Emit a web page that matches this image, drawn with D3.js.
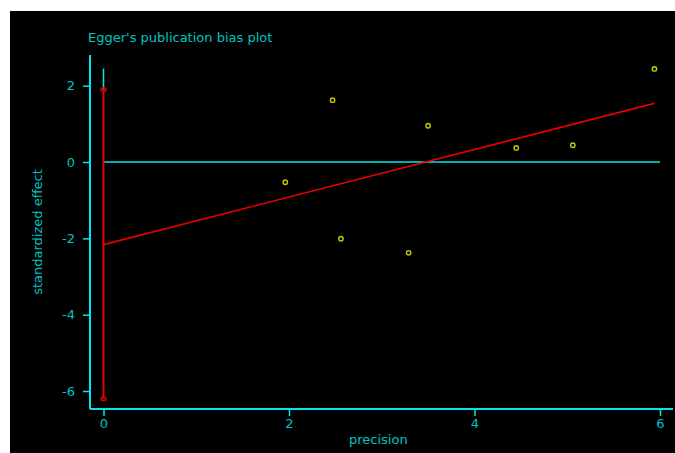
<!DOCTYPE html>
<html>
<head>
<meta charset="utf-8">
<script src="https://cdn.jsdelivr.net/npm/d3@7"></script>
<style>
  html, body { margin: 0; padding: 0; background: #ffffff; }
  svg { display: block; }
  text { font-family: "DejaVu Sans", "Liberation Sans", Arial, sans-serif; }
</style>
</head>
<body>
<svg id="chart" width="675" height="453"></svg>
<script>
// Egger regression: standardized effect (effect / SE) against precision (1 / SE)
const precision = [1.96, 2.47, 2.56, 3.29, 3.50, 4.45, 5.06, 5.94];
const standardizedEffect = [-0.53, 1.62, -2.01, -2.38, 0.95, 0.37, 0.44, 2.44];

// 95% confidence interval of the intercept (bias coefficient)
const interceptCI = [-6.2, 1.9];

const xTicks = [0, 2, 4, 6];
const yTicks = [2, 0, -2, -4, -6];

const titleText = "Egger's publication bias plot";
const xLabel = "precision";
const yLabel = "standardized effect";

const AXIS = "#00e8e8";
const TEXT = "#00c4c4";
const RED = "#e80000";
const YELLOW = "#c8c800";

const svg = d3.select("#chart");

// black panel
svg.append("rect").attr("x", 10).attr("y", 11).attr("width", 665).attr("height", 442).attr("fill", "#000");

const x = d3.scaleLinear().domain([0, 6]).range([103.5, 660]);
const y = d3.scaleLinear().domain([-6, 2]).range([391, 85.7]);

// least-squares fit of standardized effect on precision
const mx = d3.mean(precision), my = d3.mean(standardizedEffect);
const sxy = d3.sum(precision, (p, i) => (p - mx) * (standardizedEffect[i] - my));
const sxx = d3.sum(precision, p => (p - mx) ** 2);
const slope = sxy / sxx;
const intercept = my - slope * mx;
const xMax = d3.max(precision);

// axes
const xAxisY = 409;
const yAxisX = 90;

const yAxis = d3.axisLeft(y).tickValues(yTicks).tickSize(7).tickPadding(8).tickFormat(d3.format("d"));
const gy = svg.append("g").attr("transform", `translate(${yAxisX},0)`).call(yAxis);
gy.select(".domain").remove();
gy.selectAll(".tick line").attr("stroke", AXIS).attr("stroke-width", 1.5);
gy.selectAll(".tick text").attr("fill", TEXT).attr("font-size", 13).text(d => d < 0 ? "-" + Math.abs(d) : d);
svg.append("line").attr("x1", yAxisX).attr("x2", yAxisX).attr("y1", 55).attr("y2", xAxisY)
  .attr("stroke", AXIS).attr("stroke-width", 2);

const xAxis = d3.axisBottom(x).tickValues(xTicks).tickSize(7).tickPadding(3).tickFormat(d3.format("d"));
const gx = svg.append("g").attr("transform", `translate(0,${xAxisY})`).call(xAxis);
gx.select(".domain").remove();
gx.selectAll(".tick line").attr("stroke", AXIS).attr("stroke-width", 1.5);
gx.selectAll(".tick text").attr("fill", TEXT).attr("font-size", 13);
svg.append("line").attr("x1", yAxisX).attr("x2", 673).attr("y1", xAxisY).attr("y2", xAxisY)
  .attr("stroke", AXIS).attr("stroke-width", 2);

// zero reference line and vertical line at precision 0
svg.append("line").attr("x1", x(0)).attr("x2", x(6)).attr("y1", y(0)).attr("y2", y(0))
  .attr("stroke", AXIS).attr("stroke-width", 1.5);
svg.append("line").attr("x1", x(0)).attr("x2", x(0)).attr("y1", y(2.45)).attr("y2", y(interceptCI[1]))
  .attr("stroke", AXIS).attr("stroke-width", 1.5);

// intercept confidence interval
svg.append("line").attr("x1", x(0)).attr("x2", x(0))
  .attr("y1", y(interceptCI[1])).attr("y2", y(interceptCI[0]))
  .attr("stroke", RED).attr("stroke-width", 2);
svg.selectAll(".ci-end").data(interceptCI).join("ellipse")
  .attr("cx", x(0)).attr("cy", d => y(d)).attr("rx", 2.5).attr("ry", 1.8)
  .attr("fill", "none").attr("stroke", RED).attr("stroke-width", 1.4);

// regression line
const line = d3.line().x(d => x(d)).y(d => y(intercept + slope * d));
svg.append("path").datum([0, xMax]).attr("d", line)
  .attr("fill", "none").attr("stroke", RED).attr("stroke-width", 1.6);

// study points
svg.selectAll(".pt").data(precision).join("circle")
  .attr("cx", d => x(d)).attr("cy", (d, i) => y(standardizedEffect[i])).attr("r", 2.2)
  .attr("fill", "none").attr("stroke", YELLOW).attr("stroke-width", 1.4);

// titles
svg.append("text").attr("x", 88).attr("y", 42).attr("fill", TEXT).attr("font-size", 13).text(titleText);
svg.append("text").attr("x", 349).attr("y", 444).attr("fill", TEXT).attr("font-size", 13).text(xLabel);
svg.append("text").attr("transform", "translate(42,232) rotate(-90)").attr("text-anchor", "middle")
  .attr("fill", TEXT).attr("font-size", 13).text(yLabel);
</script>
</body>
</html>
